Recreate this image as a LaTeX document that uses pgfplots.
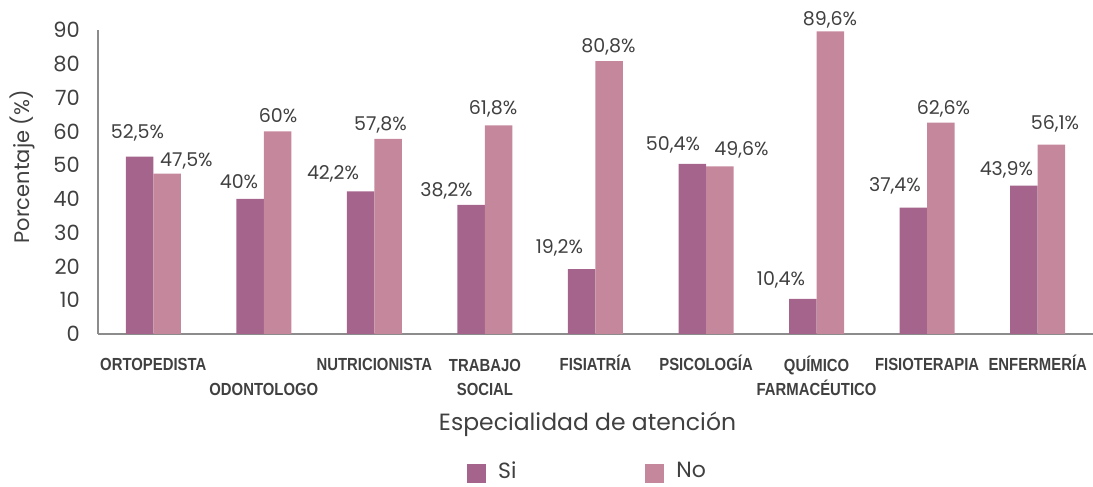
\documentclass[border=0pt]{standalone}
\usepackage{fontspec}
\setmainfont{Poppins}
\newfontfamily\tickfont[FakeStretch=0.85]{Liberation Sans}
\usepackage{pgfplots}
\pgfplotsset{compat=1.18}
\definecolor{si}{HTML}{A4648C}
\definecolor{no}{HTML}{C4879C}
\definecolor{txt}{HTML}{404040}
\definecolor{axgray}{HTML}{8C8C8C}
\begin{document}
\begin{tikzpicture}
\begin{axis}[
  at={(0,0)}, anchor=south west,
  width=995pt, height=304pt, scale only axis,
  ybar=0pt, bar width=27.5pt,
  xmin=-0.5, xmax=8.5, ymin=0, ymax=90,
  ytick={0,10,...,90},
  xtick={0,...,8},
  xticklabels={{\strut ORTOPEDISTA},{\strut\\ODONTOLOGO},{\strut NUTRICIONISTA},{\strut TRABAJO\\SOCIAL},{\strut FISIATRÍA},{\strut PSICOLOGÍA},{\strut QUÍMICO\\FARMACÉUTICO},{\strut FISIOTERAPIA},{\strut ENFERMERÍA}},
  axis x line*=bottom, axis y line*=left,
  axis line style={axgray, line width=1.2pt, -},
  major tick length=0pt,
  clip=false,
  /pgf/number format/assume math mode=true,
  yticklabel style={font=\fontsize{21}{25}\selectfont, text=txt, anchor=east, inner sep=0pt, xshift=-18pt},
  xticklabel style={font=\tickfont\bfseries\fontsize{17.5}{24}\selectfont, text=txt, align=center, anchor=north, inner sep=0pt, yshift=-20pt},
  xlabel={Especialidad de atención},
  xlabel style={at={(axis description cs:0.492,-0.296)}, anchor=center, font=\fontsize{23.5}{27}\selectfont, text=txt},
  ylabel={Porcentaje (\%)},
  ylabel style={at={(axis description cs:-0.0756,0.55)}, anchor=center, rotate=0, font=\fontsize{21}{25}\selectfont, text=txt},
  legend style={at={(0.492,-0.452)}, anchor=center, legend columns=2, draw=none, fill=none,
    font=\fontsize{22}{26}\selectfont, text=txt, inner sep=0pt,
    /tikz/every odd column/.append style={column sep=10pt},
    /tikz/every even column/.append style={column sep=127pt}},
  legend image code/.code={\fill[#1] (0pt,-13pt) rectangle (19pt,6pt);},
]
\addplot[fill=si, draw=none] coordinates {(0,52.5) (1,40) (2,42.2) (3,38.2) (4,19.2) (5,50.4) (6,10.4) (7,37.4) (8,43.9)};
\addplot[fill=no, draw=none] coordinates {(0,47.5) (1,60) (2,57.8) (3,61.8) (4,80.8) (5,49.6) (6,89.6) (7,62.6) (8,56.1)};
\legend{Si, No}
\begin{scope}[every node/.style={font=\fontsize{19}{23}\selectfont, text=txt, anchor=center, inner sep=0pt}]
\node at (axis cs:-0.143,59.4) {52,5\%};
\node at (axis cs:0.300,51.1) {47,5\%};
\node at (axis cs:0.775,45.1) {40\%};
\node at (axis cs:1.128,64.8) {60\%};
\node at (axis cs:1.626,47.4) {42,2\%};
\node at (axis cs:2.055,61.9) {57,8\%};
\node at (axis cs:2.652,42.5) {38,2\%};
\node at (axis cs:3.073,66.8) {61,8\%};
\node at (axis cs:3.674,25.6) {19,2\%};
\node at (axis cs:4.117,85.1) {80,8\%};
\node at (axis cs:4.701,56.1) {50,4\%};
\node at (axis cs:5.320,54.5) {49,6\%};
\node at (axis cs:5.678,16.1) {10,4\%};
\node at (axis cs:6.121,93.1) {89,6\%};
\node at (axis cs:6.709,44.0) {37,4\%};
\node at (axis cs:7.147,66.8) {62,6\%};
\node at (axis cs:7.717,48.5) {43,9\%};
\node at (axis cs:8.156,62.3) {56,1\%};
\end{scope}
\end{axis}
\pgfresetboundingbox
\path (-98pt,-153pt) rectangle (995pt,334pt);
\end{tikzpicture}
\end{document}
